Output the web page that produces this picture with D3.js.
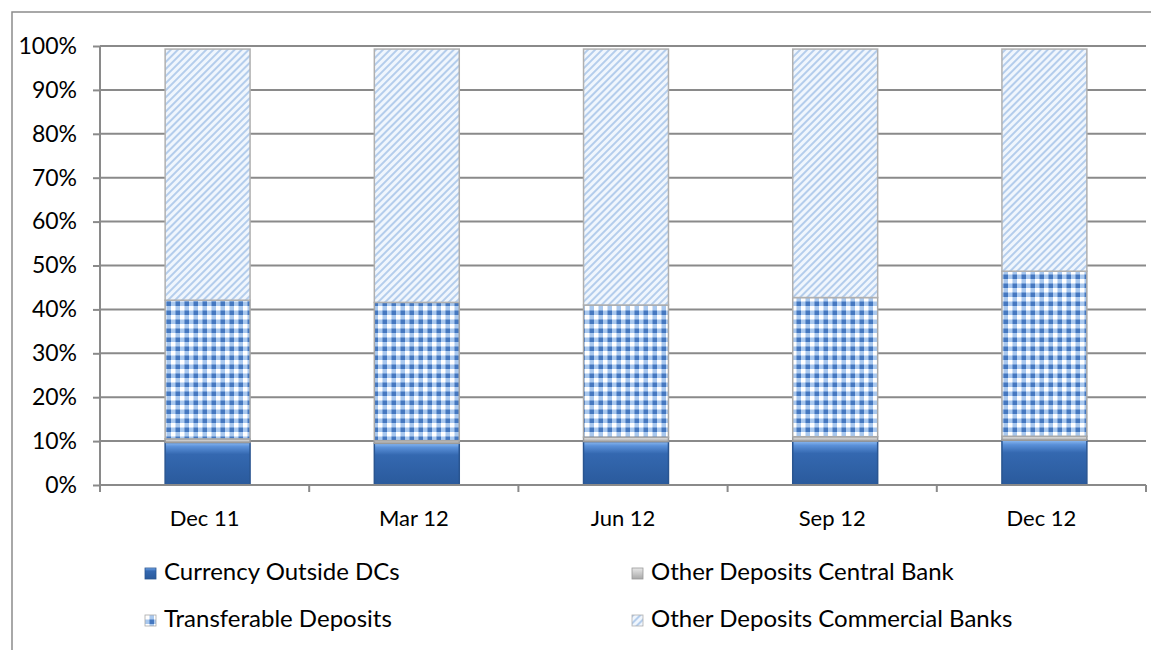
<!DOCTYPE html>
<html>
<head>
<meta charset="utf-8">
<script src="https://cdn.jsdelivr.net/npm/d3@7"></script>
<style>
  body { margin: 0; background: #fff; }
  text { font-family: "Lato", "Open Sans", sans-serif; fill: #000; }
</style>
</head>
<body>
<svg id="chart" width="1151" height="650"></svg>
<script>
// quarters on the x axis
const categories = ["Dec 11", "Mar 12", "Jun 12", "Sep 12", "Dec 12"];

// shares in percent
const currencyOutside = [9.7, 9.5, 9.9, 10.0, 10.2];
const depositsCentral = [0.8, 0.6, 1.0, 1.0, 0.9];
const transferable = [31.6, 31.5, 30.1, 31.7, 37.6];
const depositsCommercial = [57.2, 57.7, 58.3, 56.6, 50.6];

const yTicks = [0, 10, 20, 30, 40, 50, 60, 70, 80, 90, 100];

const seriesNames = ["Currency Outside DCs", "Other Deposits Central Bank",
    "Transferable Deposits", "Other Deposits Commercial Banks"];
const seriesValues = [currencyOutside, depositsCentral, transferable, depositsCommercial];

const rows = categories.map((c, i) => {
    let r = {cat: c};
    seriesNames.forEach((s, j) => r[s] = seriesValues[j][i]);
    return r;
});

const svg = d3.select("#chart");
const defs = svg.append("defs");

// solid blue with a lighter bevel on top
let g1 = defs.append("linearGradient").attr("id", "gCurrency")
    .attr("x1", 0).attr("y1", 0).attr("x2", 0).attr("y2", 1);
g1.append("stop").attr("offset", "0%").attr("stop-color", "#8cbaf2");
g1.append("stop").attr("offset", "10%").attr("stop-color", "#5a90d8");
g1.append("stop").attr("offset", "28%").attr("stop-color", "#3468b0");
g1.append("stop").attr("offset", "100%").attr("stop-color", "#2a5a9c");

let g2 = defs.append("linearGradient").attr("id", "gCentral")
    .attr("x1", 0).attr("y1", 0).attr("x2", 0).attr("y2", 1);
g2.append("stop").attr("offset", "0%").attr("stop-color", "#e8e8e8");
g2.append("stop").attr("offset", "100%").attr("stop-color", "#a8a8a8");

// gingham checks
let p1 = defs.append("pattern").attr("id", "pTransfer")
    .attr("patternUnits", "userSpaceOnUse").attr("width", 9).attr("height", 9);
p1.append("rect").attr("width", 9).attr("height", 9).attr("fill", "#ffffff");
p1.append("rect").attr("x", 4.5).attr("width", 4.5).attr("height", 9).attr("fill", "#a9c8ee");
p1.append("rect").attr("y", 4.5).attr("width", 9).attr("height", 4.5).attr("fill", "#a9c8ee");
p1.append("rect").attr("x", 4.5).attr("y", 4.5).attr("width", 4.5).attr("height", 4.5).attr("fill", "#4578c0");

// thin diagonal hatching
let p2 = defs.append("pattern").attr("id", "pCommercial")
    .attr("patternUnits", "userSpaceOnUse").attr("width", 5).attr("height", 5)
    .attr("patternTransform", "rotate(45)");
p2.append("rect").attr("width", 5).attr("height", 5).attr("fill", "#f0f6fd");
p2.append("rect").attr("width", 2).attr("height", 5).attr("fill", "#b4cdec");

const fills = {
    "Currency Outside DCs": "url(#gCurrency)",
    "Other Deposits Central Bank": "url(#gCentral)",
    "Transferable Deposits": "url(#pTransfer)",
    "Other Deposits Commercial Banks": "url(#pCommercial)"
};
const strokes = {
    "Currency Outside DCs": "#2a5590",
    "Other Deposits Central Bank": "#9a9a9a",
    "Transferable Deposits": "#a8a8a8",
    "Other Deposits Commercial Banks": "#b0b0b0"
};

// outer chart border
svg.append("rect").attr("x", 12).attr("y", 12).attr("width", 1150).attr("height", 660)
    .attr("fill", "none").attr("stroke", "#8c8c8c").attr("stroke-width", 1.5);

const plotLeft = 100, plotRight = 1146, plotTop = 46, plotBottom = 485;

const x = d3.scaleBand().domain(categories).range([plotLeft, plotRight])
    .paddingInner(0.594).paddingOuter(0.297);
const y = d3.scaleLinear().domain([0, 100]).range([plotBottom, plotTop]);

// gridlines
svg.append("g").selectAll("line").data(yTicks.slice(1)).join("line")
    .attr("x1", plotLeft).attr("x2", plotRight)
    .attr("y1", d => y(d)).attr("y2", d => y(d))
    .attr("stroke", "#8a8a8a").attr("stroke-width", 2);

// stacked bars
const stack = d3.stack().keys(seriesNames)(rows);
const barShift = 3;
svg.append("g").selectAll("g").data(stack).join("g")
    .attr("fill", d => fills[d.key])
    .attr("stroke", d => strokes[d.key])
    .selectAll("rect").data(d => d).join("rect")
    .attr("x", d => x(d.data.cat) + barShift)
    .attr("width", x.bandwidth())
    .attr("y", d => y(d[1]))
    .attr("height", d => y(d[0]) - y(d[1]))
    .attr("stroke-width", 1.5);

// y axis
const yAxis = svg.append("g").attr("transform", `translate(${plotLeft},0)`)
    .call(d3.axisLeft(y).tickValues(yTicks).tickFormat(d => d + "%")
        .tickSize(7).tickPadding(16));
yAxis.selectAll("line").attr("stroke", "#8a8a8a").attr("stroke-width", 2);
yAxis.select(".domain").attr("stroke", "#8a8a8a").attr("stroke-width", 2)
    .attr("d", `M0,${plotBottom}V${plotTop}`);
yAxis.selectAll("text").attr("font-size", 23).attr("font-family", "Lato");

// x axis, ticks sit between categories
const xAxis = svg.append("g").attr("transform", `translate(0,${plotBottom})`)
    .call(d3.axisBottom(x).tickSize(0).tickPadding(25));
xAxis.select(".domain").attr("stroke", "#8a8a8a").attr("stroke-width", 2)
    .attr("d", `M${plotLeft},0H${plotRight}`);
xAxis.selectAll("text").attr("font-size", 22).attr("font-family", "Lato");
const bounds = d3.range(categories.length + 1).map(i => plotLeft + i * x.step());
xAxis.append("g").selectAll("line").data(bounds).join("line")
    .attr("x1", d => d).attr("x2", d => d).attr("y1", 0).attr("y2", 7)
    .attr("stroke", "#8a8a8a").attr("stroke-width", 2);

// legend, two columns read row-wise
const legendPos = [[145, 568], [632, 568], [145, 615], [632, 615]];
const lg = svg.append("g").selectAll("g").data(seriesNames).join("g")
    .attr("transform", (d, i) => `translate(${legendPos[i][0]},${legendPos[i][1]})`);
lg.append("rect").attr("width", 11).attr("height", 11)
    .attr("fill", d => fills[d]).attr("stroke", d => strokes[d]).attr("stroke-width", 0.8);
lg.append("text").attr("x", 19).attr("y", 12).attr("font-size", 24)
    .text(d => d);
</script>
</body>
</html>
